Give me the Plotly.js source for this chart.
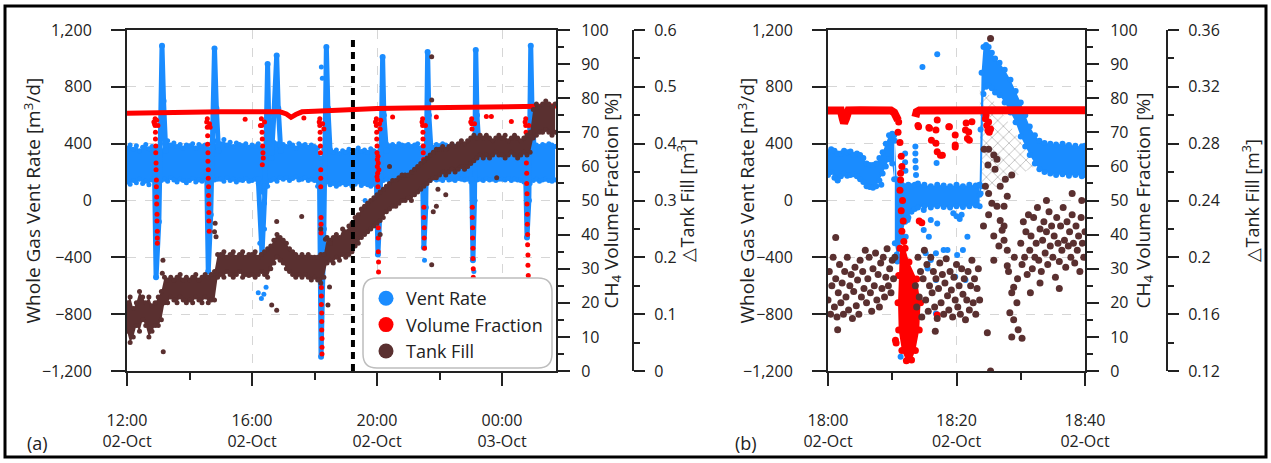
<!DOCTYPE html>
<html><head><meta charset="utf-8">
<script src="https://cdn.plot.ly/plotly-3.0.1.min.js"></script>
<style>html,body{margin:0;padding:0;background:#fff;}#chart{width:1271px;height:463px;}</style>
</head><body><div id="chart"></div><script>
// ---------------- DATA ----------------
// Panel (a): time in hours since 02-Oct 00:00 (24+ = 03-Oct); band envelopes sampled every 0.1 h from 12:00
const ventBandHiA = [370,390,360,385,350,375,395,365,380,360, 380,350,400,420,390,405,380,395,370,390,
 385,400,370,395,380,390,365,400,420,380, 400,430,390,410,380,405,395,385,400,375,
 390,380,400,370,350,380,390,410,400,385, 395,380,405,390,370,400,385,395,375,390,
 380,370,300,360,380,360,340,355,330,350, 340,360,330,350,370,345,355,340,365,350,
 340,360,380,400,385,395,380,400,390,385, 395,380,390,400,370,360,380,390,375,395,
 385,400,390,375,395,380,390,400,385,390, 380,360,390,400,385,395,410,390,400,385,
 395,385,400,390,380,395,385,370,360,380, 400,390,380,395,385,400,390,380];
const ventBandLoA = [130,115,140,125,150,120,135,110,145,150, 150,140,150,135,160,145,130,150,140,125,
 140,155,130,145,135,150,140,160,145,150, 150,135,160,140,150,130,145,140,155,135,
 140,150,120,60,-20,100,140,150,135,160, 150,160,140,155,165,145,150,160,140,150,
 140,100,60,150,130,110,120,100,115,125, 110,120,100,115,130,105,120,110,100,115,
 120,130,140,150,135,155,145,150,140,160, 150,140,155,145,120,130,150,140,155,145,
 150,140,160,145,150,140,155,150,145,150, 130,120,145,150,140,155,145,150,140,150,
 150,145,155,140,150,145,140,130,110,120, 140,150,135,145,150,140,135,145];
const ventSpikeTA = [12.88,12.93,13.02,13.12,13.17,13.24,null, 14.55,14.6,14.68,14.8,14.86,14.93,null,
 16.2,16.32,16.42,16.5,16.55,16.62,16.7,16.79,16.84,16.92,null, 18.16,18.21,18.3,18.38,18.43,18.5,null,
 19.98,20.03,20.1,20.18,20.22,20.3,null, 21.46,21.5,21.56,21.62,21.66,21.73,null,
 23.03,23.07,23.12,23.16,23.2,23.27,null, 24.76,24.8,24.86,24.92,24.96,25.03];
const ventSpikeVA = [200,-540,-150,1090,700,350,null, 200,-500,-100,1070,650,350,null,
 150,-380,100,960,400,300,600,1020,650,350,null, 150,-1100,-200,1080,650,350,null,
 150,-380,-50,1010,600,350,null, 150,-330,-50,1045,600,350,null,
 150,-420,0,1060,600,350,null, 150,-260,0,1090,650,350];
const ventDotTA = [16.2,16.3,16.45,16.38,18.22,19.62,18.25,16.25,16.4,21.52,23.1];
const ventDotVA = [-650,-690,-610,-660,940,0,860,-300,-200,-420,-500];

const ch4BaseTA = [12,13,14,15,16,16.9,17.1,17.25,17.4,17.6,18,19,19.5,20,21,22,23,24,25,25.73];
const ch4BaseVA = [75.6,75.8,75.9,76,76,76,75.4,74.4,75.2,76,76.2,76.6,77,77,77.1,77.3,77.4,77.5,77.6,77.7];
const ch4DipTA = [12.9,12.9,12.91,12.91,12.92,12.92,12.93,12.93,12.94,12.94,12.95,12.95,12.96,12.96,12.97,12.97,12.97,
 14.57,14.57,14.58,14.58,14.59,14.59,14.6,14.6,14.61,14.61,14.62,14.62,14.62,14.63,
 16.3,16.31,16.32,16.33,16.34,16.35,16.36,
 18.17,18.17,18.18,18.18,18.19,18.19,18.2,18.2,18.2,18.21,18.21,18.21,18.22,18.22,18.22,18.23,18.23,18.23,18.24,18.24,18.24,
 19.98,19.98,19.99,19.99,20.0,20.0,20.01,20.01,20.02,20.02,20.03,20.03,20.03,20.04,20.04,20.04,20.05,20.05,20.05,20.06,20.06,20.06,20.07,
 21.46,21.46,21.47,21.47,21.48,21.48,21.49,21.5,21.5,21.51,21.51,21.52,
 23.03,23.03,23.04,23.05,23.05,23.06,23.06,23.07,23.07,23.08,23.08,23.09,23.09,23.1,
 24.76,24.76,24.77,24.77,24.78,24.78,24.79,24.79,24.8,24.8,24.81,24.81,24.82,24.82,24.83,24.83,24.84,24.84,24.85,24.85];
const ch4DipVA = [74,72,70,68,66,64,61,59,56,54,51,49,46,44,41,39,37.5,
 74,71.5,69,66.5,64,61.5,59,56.5,54,51.5,49,46.5,44,41,
 74,72,70,68,66,64,62.5,
 74,72,70,68,66,64,59,56.5,54,45,43,40.5,24.5,22,19.5,17,14.5,12,9.5,7,5,
 74,72,70,68,66,64,62,60,58,56,54,48,45,42,39,35,32,29,26,22,18,14,10,
 74,72,70,68,66,64,62,48,45,42,39,36,
 74,72.5,71,48,45,42,39,36,33,30,27.5,22,16,10,
 74,72,70,67,64,61,58,55,52,49,46,43,40,37,34,31,28,22,16,10];
const ch4DotTA = [12.86,12.88,12.95,12.99,14.55,14.64,14.66,16.27,16.4,16.33,15.78,17.66,18.15,18.26,18.3,19.95,20.08,20.1,20.12,20.5,21.44,21.55,21.9,23.0,23.12,23.5,23.66,24.74,24.86,24.3,20.03,20.06,20.0,20.04];
const ch4DotVA = [73,72.5,73.5,72,73,72.5,71.5,72,73,60.5,73.8,74.2,73,72.5,71,73,72.5,71,73.5,74.5,73,72,74.5,73,72.5,74.6,74.6,73,72,73.2,63,59,57,61];

const tankLoA = [0.07,0.05,0.06,0.08,0.07,0.09,0.08,0.06,0.07,0.08, 0.08,0.09,0.12,0.12,0.13,0.125,0.12,0.13,0.125,0.12,
 0.125,0.12,0.13,0.125,0.12,0.13,0.12,0.125,0.125,0.165, 0.17,0.165,0.175,0.17,0.165,0.17,0.175,0.165,0.17,0.168,
 0.17,0.165,0.17,0.175,0.17,0.165,0.18,0.19,0.2,0.195, 0.19,0.18,0.175,0.17,0.165,0.17,0.165,0.17,0.165,0.16,
 0.165,0.16,0.155,0.165,0.19,0.195,0.19,0.2,0.195,0.205, 0.2,0.205,0.21,0.22,0.225,0.235,0.24,0.245,0.25,0.255,
 0.26,0.265,0.27,0.28,0.285,0.29,0.29,0.295,0.3,0.3, 0.305,0.3,0.31,0.315,0.32,0.325,0.33,0.335,0.34,0.34,
 0.345,0.35,0.345,0.35,0.355,0.35,0.355,0.36,0.355,0.36, 0.365,0.37,0.375,0.38,0.375,0.38,0.375,0.38,0.385,0.38,
 0.38,0.375,0.38,0.385,0.38,0.375,0.38,0.385,0.38,0.385, 0.41,0.415,0.42,0.42,0.425,0.42,0.415,0.42];
const tankHiA = [0.12,0.13,0.11,0.12,0.14,0.13,0.12,0.13,0.115,0.12, 0.13,0.14,0.165,0.16,0.165,0.16,0.165,0.17,0.16,0.165,
 0.16,0.165,0.17,0.16,0.165,0.17,0.165,0.17,0.175,0.205, 0.205,0.21,0.2,0.205,0.21,0.2,0.205,0.21,0.2,0.205,
 0.205,0.21,0.2,0.205,0.21,0.215,0.22,0.23,0.24,0.235, 0.23,0.225,0.215,0.21,0.205,0.2,0.205,0.2,0.205,0.2,
 0.2,0.2,0.205,0.205,0.235,0.23,0.235,0.24,0.235,0.25, 0.245,0.255,0.26,0.27,0.275,0.285,0.29,0.295,0.3,0.305,
 0.31,0.315,0.32,0.325,0.33,0.335,0.335,0.34,0.345,0.345, 0.345,0.35,0.355,0.36,0.365,0.37,0.375,0.38,0.385,0.39,
 0.39,0.395,0.39,0.395,0.4,0.395,0.4,0.405,0.4,0.405, 0.41,0.415,0.41,0.415,0.41,0.415,0.41,0.405,0.41,0.415,
 0.41,0.415,0.405,0.41,0.415,0.41,0.405,0.41,0.415,0.42, 0.46,0.47,0.465,0.47,0.475,0.47,0.465,0.47];
const tankDotTA = [13.16,13.15,13.13,14.82,14.85,14.8,16.63,16.79,16.79,17.59,18.2,18.35,18.5,18.43,18.48,19.19,21.75,21.75,21.95,21.9,21.8,21.75,23.83,20.1,20.4,22.2];
const tankDotVA = [0.034,0.195,0.172,0.26,0.236,0.245,0.116,0.107,0.263,0.272,0.25,0.232,0.225,0.116,0.148,0.25,0.553,0.477,0.32,0.29,0.28,0.187,0.34,0.24,0.36,0.31];
const markerTimeA = [19.23];   // vertical dotted marker

// Panel (b): minutes after 18:00
const ventTB1 = [0,0.5,1,1.5,2,2.5,3,3.5,4,4.5,5,5.5,6,6.5,7,7.5,8,8.5,9,9.5,10,10.3];
const ventLoB1 = [180,200,160,140,170,190,175,180,185,170,150,130,100,95,90,100,140,190,240,290,260,150];
const ventHiB1 = [340,360,350,330,330,350,340,345,320,330,320,300,260,250,250,260,300,340,400,460,470,460];
const ventTB2 = [10.4,10.7,11,11.5,12,12.5,13,13.5,14,15,16,17,18,19,20,21,22,23,23.6];
const ventLoB2 = [-300,-380,-400,-250,-150,-120,-80,-60,-50,-40,-50,-40,-45,-50,-40,-45,-40,-35,-40];
const ventHiB2 = [420,150,120,110,100,110,100,110,120,110,100,110,105,100,110,100,110,105,110];
const ventTB3 = [23.6,23.75,23.9,24.2,24.6,25,25.5,26,26.7,27.5,28.4,29.2,30,30.7,31.4,32.2,32.9,33.7,34.6,35.5,36.5,37.5,38.5,39.5,40];
const ventLoB3 = [40,50,100,750,800,810,790,760,740,690,620,550,450,380,320,260,220,200,190,180,185,175,180,170,180];
const ventHiB3 = [110,500,900,1080,1095,1080,1040,1000,970,920,850,770,690,600,520,460,420,405,400,395,400,390,385,380,385];
const ventDotTB = [11.3,11.3,12.1,12.4,14.9,16.0,14.9,17.0,15.7,15.2,16.0,15.5,16.8,18.0,16.8,21.7,21.4,20.1,19.8,18.6,16.8,21.0,14.7,17.0,16.7,16.9,13.6,13.6,13.6,13.65,13.7,12.0,12.0,12.05,10.6,10.8,19.5,20.0,20.5,20.8,1.5,8.3];
const ventDotVB = [-396,-1100,-255,-138,-67,-138,-208,-162,-255,-372,-419,-478,-372,-349,-560,-255,-560,-384,-537,-349,-795,-349,940,1030,404,264,380,330,280,230,180,330,270,210,-400,-430,-90,-110,-130,-100,144,110];
const hatchTB = [23.6,25.8,27.9,29.9,32.2,23.75];
const hatchVB = [830,700,560,420,240,40];

const ch4BaseTB1 = [0,2,2.3,2.5,2.8,3.2,5,8,9.8,10.3,10.6,10.9];
const ch4BaseVB1 = [76.4,76.4,74,72.7,74,76.4,76.5,76.5,76.4,75.8,74.5,73.5];
const ch4BaseTB2 = [13.6,13.8,14.2,20,25,30,35,40];
const ch4BaseVB2 = [74.5,76,76.4,76.3,76.4,76.4,76.5,76.5];
const ch4DipTB = [11.2,11.0,10.9,11.0,11.5,12.2,13.0,13.6,14.2,14.4,13.8,12.6,12.0];
const ch4DipVB = [36,28,20,12,6,3,3.2,6,12,20,27,32,36];
const ch4DotTB = [11.2,11.4,11.5,11.3,11.2,11.6,11.4,11.7,11.5,11.8,11.3,10.5,10.6,14.2,14.6,17.0,14.1,14.0,15.7,15.8,16.1,16.8,16.8,17.0,17.0,17.5,17.8,18.8,18.9,19.8,19.8,19.8,21.4,21.5,21.7,21.9,22.0,22.4,24.5,24.7,24.9,25.1,25.3,25.0,24.6,10.9,11.0];
const ch4DotVB = [67,63,60,56,53,50,47,44,41,38,58,9,8.2,44,43.5,16.4,71.6,72,71.4,71.2,67.7,66.8,70.7,64.3,73.6,63.3,63.3,71.6,71.6,69.2,66.3,65.7,70.7,72.7,68.2,70.1,67.7,73.1,74,72,70.5,70,71,73,75,70,73];

const tankB1 = [0.17,0.19,0.16,0.18,0.2,0.165,0.185,0.158,0.175,0.195,0.168,0.182,0.16,0.19,0.172,0.2,0.163,0.18,0.188,0.157,
 0.176,0.193,0.166,0.184,0.16,0.198,0.172,0.19,0.178,0.205,0.168,0.185,0.2,0.175,0.162,0.192,0.18,0.203,0.17,0.188,
 0.165,0.196,0.178,0.2,0.172,0.186,0.206,0.18,0.192,0.175,0.198,0.185,0.2];          // every 0.2 min from 18:00
const tankB2 = [0.18,0.165,0.2,0.172,0.19,0.158,0.185,0.205,0.17,0.195,0.162,0.18,0.2,0.175,0.19,0.165,0.185,0.157,0.178,0.196,
 0.168,0.188,0.16,0.182,0.199,0.173,0.163,0.19,0.177,0.158,0.186,0.17,0.195,0.165,0.18,0.16,0.192,0.174,0.185,0.156,
 0.17,0.19,0.163,0.18,0.198,0.168,0.185,0.16,0.178,0.192,0.17];                    // every 0.2 min from 18:13.6
const tankB3 = [0.21,0.195,0.225,0.2,0.218,0.188,0.23,0.205,0.215,0.192,0.228,0.2,0.21,0.235,0.198,0.22,0.19,0.212,0.225,0.203,
 0.218,0.195,0.232,0.208,0.222,0.2,0.215,0.186,0.228,0.21,0.197,0.222,0.205,0.235,0.212,0.193,0.225,0.208,0.218,0.2,
 0.23,0.21,0.196,0.222,0.205,0.215,0.19,0.228,0.21,0.2,0.218];                      // every 0.2 min from 18:30
const tankDotTB = [25.3,25.0,25.8,26.3,24.5,25.0,25.5,26.8,27.9,28.6,27.4,24.2,26.8,27.1,27.4,25.8,27.9,28.9,28.6,29.4,28.3,28.9,29.6,28.6,30.2,24.8,25.3,26.3,27.4,27.6,25.8,25.0,27.9,28.1,24.3,26.0,29.0,29.5,24.9,26.6,
 1.2,1.5,16.7,31.5,33,36,34,38,39.5];
const tankDotVB = [0.354,0.276,0.272,0.269,0.25,0.245,0.238,0.25,0.243,0.258,0.236,0.222,0.226,0.219,0.212,0.198,0.194,0.179,0.175,0.168,0.161,0.156,0.149,0.144,0.143,0.147,0.12,0.236,0.222,0.255,0.215,0.23,0.205,0.19,0.276,0.262,0.2,0.185,0.265,0.208,
 0.214,0.149,0.148,0.175,0.182,0.178,0.24,0.245,0.24];

const tickValsA = [12,16,20,24], minorTickValsA = [14,18,22];
const tickTextA = ['12:00<br>02-Oct','16:00<br>02-Oct','20:00<br>02-Oct','00:00<br>03-Oct'];
const tickValsB = [0,20,40], minorTickValsB = [10,30];
const tickTextB = ['18:00<br>02-Oct','18:20<br>02-Oct','18:40<br>02-Oct'];
const seriesNames = ['Vent Rate','Volume Fraction','Tank Fill'];

// ---------------- STYLE / BUILD ----------------
const W = 1271, H = 463;
const px = v => v / W, py = v => 1 - v / H;
const FONT = 'Open Sans, sans-serif';
const INK = '#222';
const BLUE = '#1a8cff', RED = '#ff0000', BROWN = '#5a3030';
const noHover = {hoverinfo:'skip', showlegend:false};

function mk(o){ return Object.assign({type:'scatter', cliponaxis:true}, noHover, o); }
function band(xo, lo, hi, color, ms, xa, ya){
  const base = Object.assign({mode:'lines+markers', line:{width:0, color:color}, marker:{size:ms, color:color}, xaxis:xa, yaxis:ya}, xo);
  return [mk(Object.assign({}, base, {y:lo})),
          mk(Object.assign({}, base, {y:hi, fill:'tonexty', fillcolor:color}))];
}

const data = [];
// panel a - vent (y)
data.push(...band({x0:12, dx:0.1}, ventBandLoA, ventBandHiA, BLUE, 5, 'x', 'y'));
data.push(mk({x:ventSpikeTA, y:ventSpikeVA, mode:'lines+markers', line:{color:BLUE, width:5}, marker:{size:6, color:BLUE}, connectgaps:false, xaxis:'x', yaxis:'y'}));
data.push(mk({x:ventDotTA, y:ventDotVA, mode:'markers', marker:{size:5, color:BLUE}, xaxis:'x', yaxis:'y'}));
// panel a - CH4 (y2)
data.push(mk({x:ch4BaseTA, y:ch4BaseVA, mode:'lines', line:{color:RED, width:5}, xaxis:'x', yaxis:'y2'}));
data.push(mk({x:ch4DipTA, y:ch4DipVA, mode:'markers', marker:{size:5, color:RED}, xaxis:'x', yaxis:'y2'}));
data.push(mk({x:ch4DotTA, y:ch4DotVA, mode:'markers', marker:{size:5, color:RED}, xaxis:'x', yaxis:'y2'}));
// panel a - tank (y3)
data.push(...band({x0:12, dx:0.1}, tankLoA, tankHiA, BROWN, 5, 'x', 'y3'));
data.push(mk({x:tankDotTA, y:tankDotVA, mode:'markers', marker:{size:5, color:BROWN}, xaxis:'x', yaxis:'y3'}));

// panel b - vent (y4)
data.push(mk({x:hatchTB, y:hatchVB, mode:'none', fill:'toself', fillcolor:'#ffffff',
  fillpattern:{shape:'x', fgcolor:'#8a8a8a', bgcolor:'#ffffff', size:8, solidity:0.12}, xaxis:'x2', yaxis:'y4'}));
data.push(...band({x:ventTB1}, ventLoB1, ventHiB1, BLUE, 6, 'x2', 'y4'));
data.push(...band({x:ventTB2}, ventLoB2, ventHiB2, BLUE, 6, 'x2', 'y4'));
data.push(...band({x:ventTB3}, ventLoB3, ventHiB3, BLUE, 6, 'x2', 'y4'));
data.push(mk({x:ventDotTB, y:ventDotVB, mode:'markers', marker:{size:6, color:BLUE}, xaxis:'x2', yaxis:'y4'}));
// panel b - CH4 (y5)
data.push(mk({x:ch4BaseTB1, y:ch4BaseVB1, mode:'lines', line:{color:RED, width:8}, xaxis:'x2', yaxis:'y5'}));
data.push(mk({x:ch4BaseTB2, y:ch4BaseVB2, mode:'lines', line:{color:RED, width:8}, xaxis:'x2', yaxis:'y5'}));
data.push(mk({x:ch4DipTB, y:ch4DipVB, mode:'lines+markers', line:{width:0, color:RED}, fill:'toself', fillcolor:RED, marker:{size:7, color:RED}, xaxis:'x2', yaxis:'y5'}));
data.push(mk({x:ch4DotTB, y:ch4DotVB, mode:'markers', marker:{size:7, color:RED}, xaxis:'x2', yaxis:'y5'}));
// panel b - tank (y6)
data.push(mk({x0:0, dx:0.2, y:tankB1, mode:'markers', marker:{size:7, color:BROWN}, xaxis:'x2', yaxis:'y6'}));
data.push(mk({x0:13.6, dx:0.2, y:tankB2, mode:'markers', marker:{size:7, color:BROWN}, xaxis:'x2', yaxis:'y6'}));
data.push(mk({x0:30, dx:0.2, y:tankB3, mode:'markers', marker:{size:7, color:BROWN}, xaxis:'x2', yaxis:'y6'}));
data.push(mk({x:tankDotTB, y:tankDotVB, mode:'markers', marker:{size:7, color:BROWN}, xaxis:'x2', yaxis:'y6'}));

// legend entries
[BLUE, RED, BROWN].forEach((c, i) => {
  data.push({type:'scatter', x:[null], y:[null], mode:'markers', name:seriesNames[i], marker:{size:15, color:c},
    xaxis:'x', yaxis:'y', showlegend:true, hoverinfo:'skip'});
});

const tickFont = {family:FONT, size:16, color:INK};
const lineStyle = {showline:true, linewidth:2, linecolor:INK, ticks:'outside', tickwidth:2, tickcolor:INK, tickfont:tickFont, zeroline:false, fixedrange:true};
const gridStyle = {showgrid:true, gridcolor:'#d6d6d6', griddash:'dash', gridwidth:1};
const plotBottom = py(371), plotTop = py(30);

function xAxis(dom, range, tv, tt, mv, anchor){
  return Object.assign({}, lineStyle, gridStyle, {domain:dom, range:range, anchor:anchor, tickmode:'array', tickvals:tv, ticktext:tt,
    ticklen:13, mirror:true, ticklabelstandoff:21, layer:'above traces',
    minor:{tickmode:'array', tickvals:mv, ticks:'outside', ticklen:7, tickwidth:2, tickcolor:INK, showgrid:false}});
}
function leftAxis(anchor){
  return Object.assign({}, lineStyle, gridStyle, {domain:[plotBottom, plotTop], range:[-1200,1200], anchor:anchor, dtick:400, tick0:0,
    tickformat:',', ticklen:14, ticklabelstandoff:16, layer:'above traces'});
}
function ch4Axis(anchor, over){
  return Object.assign({}, lineStyle, {overlaying:over, side:'right', anchor:anchor, range:[0,100], dtick:10, ticklen:12, showgrid:false,
    ticklabelstandoff:8, layer:'above traces', minor:{dtick:5, ticks:'outside', ticklen:6, tickwidth:2, tickcolor:INK}});
}
function tankAxis(over, pos, range, dt){
  return Object.assign({}, lineStyle, {overlaying:over, side:'right', anchor:'free', position:pos, range:range, dtick:dt, tick0:0, ticklen:11,
    showgrid:false, ticklabelstandoff:6, layer:'above traces', minor:{dtick:dt/2, ticks:'outside', ticklen:6, tickwidth:2, tickcolor:INK}});
}

function vTitle(text, xpix, size){
  return {text:text, xref:'paper', yref:'paper', x:px(xpix), y:py(200.5), textangle:-90, showarrow:false,
    xanchor:'center', yanchor:'middle', font:{family:FONT, size:size, color:INK}};
}
const L0 = px(363), L1 = px(552), T0 = py(368), T1 = py(278), rx = 14 / W, ry = 14 / H;
const legendPath = `M ${L0+rx},${T1} L ${L1-rx},${T1} Q ${L1},${T1} ${L1},${T1-ry} L ${L1},${T0+ry} Q ${L1},${T0} ${L1-rx},${T0} ` +
  `L ${L0+rx},${T0} Q ${L0},${T0} ${L0},${T0+ry} L ${L0},${T1-ry} Q ${L0},${T1} ${L0+rx},${T1} Z`;

const layout = {
  width:W, height:H, margin:{l:0, r:0, t:0, b:0}, paper_bgcolor:'#fff', plot_bgcolor:'rgba(0,0,0,0)',
  font:{family:FONT, color:INK}, showlegend:true, hovermode:false,
  xaxis: xAxis([px(127), px(556)], [12, 25.728], tickValsA, tickTextA, minorTickValsA, 'y'),
  yaxis: leftAxis('x'),
  yaxis2: ch4Axis('x', 'y'),
  yaxis3: tankAxis('y', px(633), [0, 0.6], 0.1),
  xaxis2: xAxis([px(828), px(1085)], [0, 40], tickValsB, tickTextB, minorTickValsB, 'y4'),
  yaxis4: leftAxis('x2'),
  yaxis5: ch4Axis('x2', 'y4'),
  yaxis6: tankAxis('y4', px(1167), [0.12, 0.36], 0.04),
  legend:{x:px(366), y:py(280), xanchor:'left', yanchor:'top', bgcolor:'rgba(0,0,0,0)', borderwidth:0,
    font:{family:FONT, size:18, color:INK}, itemwidth:30, tracegroupgap:0, traceorder:'normal'},
  shapes:[
    {type:'line', xref:'x', yref:'y', x0:markerTimeA[0], x1:markerTimeA[0], y0:-1200, y1:1150,
     line:{color:'#000', width:4, dash:'7px,5px'}, layer:'above'},
    {type:'path', xref:'paper', yref:'paper', path:legendPath, fillcolor:'#fff', line:{color:'#bdbdbd', width:1.5}, layer:'above'},
    {type:'rect', xref:'paper', yref:'paper', x0:px(5), x1:px(1266), y0:py(457), y1:py(6), line:{color:'#000', width:3}, fillcolor:'rgba(0,0,0,0)', layer:'above'}
  ],
  annotations:[
    vTitle('Whole Gas Vent Rate [m<sup>3</sup>/d]', 33, 19),
    vTitle('CH<sub>4</sub> Volume Fraction [%]', 612, 19),
    vTitle('\u25B3Tank Fill [m<sup>3</sup>]', 687, 18),
    vTitle('Whole Gas Vent Rate [m<sup>3</sup>/d]', 747, 19),
    vTitle('CH<sub>4</sub> Volume Fraction [%]', 1144, 19),
    vTitle('\u25B3Tank Fill [m<sup>3</sup>]', 1252, 18),
    {text:'(a)', xref:'paper', yref:'paper', x:px(37), y:py(443), showarrow:false, xanchor:'center', yanchor:'middle', font:{family:FONT, size:18, color:INK}},
    {text:'(b)', xref:'paper', yref:'paper', x:px(746), y:py(443), showarrow:false, xanchor:'center', yanchor:'middle', font:{family:FONT, size:18, color:INK}}
  ]
};

Plotly.newPlot('chart', data, layout, {staticPlot:true, displayModeBar:false});
</script></body></html>
